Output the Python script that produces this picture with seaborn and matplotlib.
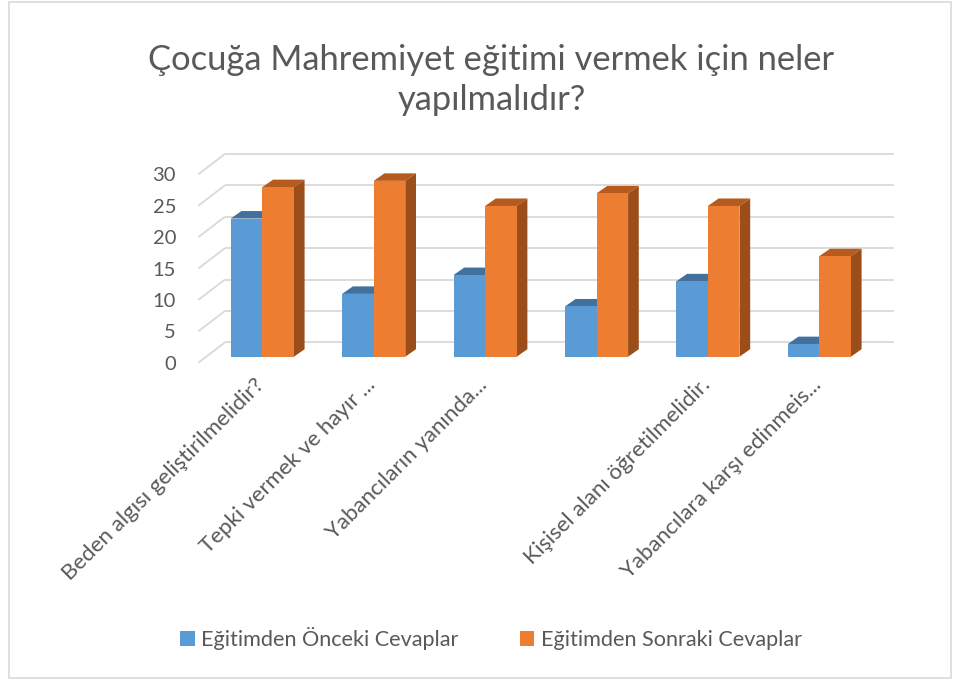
import matplotlib
matplotlib.use("Agg")
import matplotlib.pyplot as plt
from matplotlib.patches import Polygon, Patch, Rectangle
from matplotlib.transforms import ScaledTranslation
import pandas as pd
import seaborn as sns

# --- data -------------------------------------------------------------
baslik = "Çocuğa Mahremiyet eğitimi vermek için neler\nyapılmalıdır?"
kategoriler = [
    "Beden algısı geliştirilmelidir?",
    "Tepki vermek ve hayır ...",
    "Yabancıların yanında...",
    "",
    "Kişisel alanı öğretilmelidir.",
    "Yabancılara karşı edinmeis...",
]
seriler = ["Eğitimden Önceki Cevaplar", "Eğitimden Sonraki Cevaplar"]
onceki = [22, 10, 13, 8, 12, 2]
sonraki = [27, 28, 24, 26, 24, 16]
y_ticks = [0, 5, 10, 15, 20, 25, 30]

# --- style ------------------------------------------------------------
sns.set_theme(style="white")
plt.rcParams["font.family"] = ["Lato", "DejaVu Sans"]
TXT = "#595959"
GRID = "#d9d9d9"
renkler = {"front": ["#5b9bd5", "#ed7d31"],
           "top": ["#41719c", "#b65a1e"],
           "side": ["#3a6690", "#9b4d1a"]}

df = pd.DataFrame({
    "kategori": kategoriler * 2,
    "seri": [seriler[0]] * len(kategoriler) + [seriler[1]] * len(kategoriler),
    "deger": onceki + sonraki,
})

W_PX, H_PX, DPI = 958, 679, 100
fig = plt.figure(figsize=(W_PX / DPI, H_PX / DPI), dpi=DPI)

# plot area (front plane of the columns), in pixels
ax_l, ax_r, ax_b, ax_t = 206.6, 875.0, 356.7, 168.3
ax = fig.add_axes([ax_l / W_PX, 1 - ax_b / H_PX,
                   (ax_r - ax_l) / W_PX, (ax_b - ax_t) / H_PX])

sns.barplot(data=df, x="kategori", y="deger", hue="seri",
            order=kategoriler, hue_order=seriler,
            palette=renkler["front"], saturation=1, width=0.567,
            legend=False, ax=ax)

ax.set_xlim(-0.5, len(kategoriler) - 0.5)
ax.set_ylim(0, 30)
ppx = (ax_r - ax_l) / len(kategoriler)   # pixels per category
ppy = (ax_b - ax_t) / 30.0               # pixels per unit

# depth of the columns
d_x, d_y = 10.7 / ppx, 7.5 / ppy

for j, cont in enumerate(ax.containers):
    for rect in cont:
        x0, w, h = rect.get_x(), rect.get_width(), rect.get_height()
        rect.set_zorder(3)
        rect.set_edgecolor("none")
        top = Polygon([(x0, h), (x0 + w, h), (x0 + w + d_x, h + d_y), (x0 + d_x, h + d_y)],
                      closed=True, fc=renkler["top"][j], ec="none", zorder=2)
        side = Polygon([(x0 + w, 0), (x0 + w, h), (x0 + w + d_x, h + d_y), (x0 + w + d_x, d_y)],
                       closed=True, fc=renkler["side"][j], ec="none", zorder=2)
        ax.add_patch(top)
        ax.add_patch(side)

# back wall gridlines and the slanted side-wall lines
xb0 = -0.5 + (225.0 - ax_l) / ppx
xb1 = -0.5 + (894.0 - ax_l) / ppx
xf0 = -0.5 + (198.3 - ax_l) / ppx
back_dy = 14.4 / ppy
front_dy = -6.0 / ppy
for v in y_ticks:
    ax.plot([xb0, xb1], [v + back_dy, v + back_dy], color=GRID, lw=1.3,
            zorder=1, clip_on=False, solid_capstyle="butt")
    ax.plot([xf0, xb0], [v + front_dy, v + back_dy], color=GRID, lw=1.3,
            zorder=1, clip_on=False, solid_capstyle="butt")

for s in ax.spines.values():
    s.set_visible(False)
ax.set_xlabel("")
ax.set_ylabel("")
ax.set_facecolor("none")

# y tick labels sit on the front edge of the side wall
ax.set_yticks(y_ticks)
ax.set_yticklabels([str(v) for v in y_ticks])
ax.tick_params(axis="y", length=0, pad=(ax_l - 176.0) * 72 / DPI,
               labelsize=14.5, labelcolor=TXT)
shift_y = ScaledTranslation(0, -6.0 / DPI, fig.dpi_scale_trans)
for t in ax.yaxis.get_major_ticks():
    t.label1.set_transform(t.label1.get_transform() + shift_y)

# rotated category labels
ax.set_xticks(range(len(kategoriler)))
ax.set_xticklabels(kategoriler, rotation=45, ha="right", va="center",
                   rotation_mode="anchor")
ax.tick_params(axis="x", length=0, pad=(382 - ax_b) * 72 / DPI,
               labelsize=16, labelcolor=TXT)
shift_x = ScaledTranslation(-1.0 / DPI, 0, fig.dpi_scale_trans)
for t in ax.xaxis.get_major_ticks():
    t.label1.set_transform(t.label1.get_transform() + shift_x)

# title
fig.text(491.5 / W_PX, 1 - 80 / H_PX, baslik, ha="center", va="center",
         fontsize=24.8, color=TXT, linespacing=1.3)

# legend
handles = [Patch(fc=renkler["front"][0], ec="none"),
           Patch(fc=renkler["front"][1], ec="none")]
fig.legend(handles, seriler, loc="center", bbox_to_anchor=(491 / W_PX, 1 - 639 / H_PX),
           ncol=2, frameon=False, fontsize=15.6, labelcolor=TXT,
           handlelength=0.68, handleheight=0.68, handletextpad=0.3, columnspacing=2.8)

# chart border
fig.add_artist(Rectangle((8.5 / W_PX, 1 - 678 / H_PX), (951 - 8.5) / W_PX, (678 - 2) / H_PX,
                         transform=fig.transFigure, fill=False, ec=GRID, lw=1.2))

fig.savefig("out.png", dpi=DPI, facecolor="white")
